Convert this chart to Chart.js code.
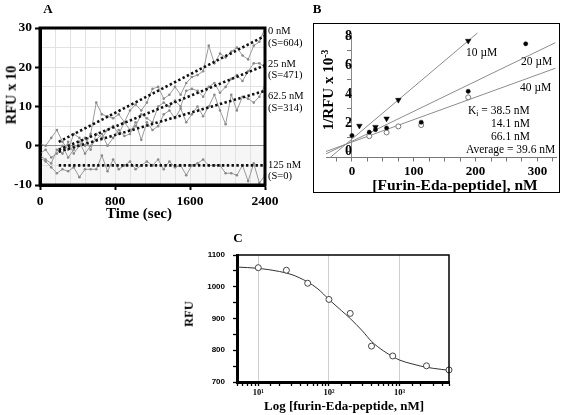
<!DOCTYPE html>
<html><head><meta charset="utf-8">
<script src="https://cdn.jsdelivr.net/npm/chart.js@4.4.1/dist/chart.umd.min.js"></script>
<style>
html,body{margin:0;padding:0;background:#fff;}
#wrap{position:relative;width:563px;height:415px;overflow:hidden;background:#fff;}
canvas{position:absolute;left:0;top:0;}
.t{position:absolute;font-family:"Liberation Serif","Times New Roman",serif;color:#000;white-space:nowrap;line-height:1;}
.b{font-weight:bold;}
sup{font-size:0.65em;vertical-align:0.5em;line-height:0;}
sub{font-size:0.65em;vertical-align:-0.25em;line-height:0;}
</style></head><body>
<div id="wrap">
<canvas id="cA" width="563" height="415"></canvas>
<canvas id="cB" width="563" height="415"></canvas>
<canvas id="cC" width="563" height="415"></canvas>
<div style="position:absolute;left:313px;top:23px;width:247px;height:170px;box-sizing:border-box;border:1.5px solid #000;"></div>
</div>
<script>
// ---------- Panel A data ----------
const timesA = [0,60,120,180,240,300,360,420,480,540,600,660,720,780,840,900,960,1020,1080,1140,1200,1260,1320,1380,1440,1500,1560,1620,1680,1740,1800,1860,1920,1980,2040,2100,2160,2220,2280,2340,2400];
const rfu0nM   = [0.5,0,2,4,1,-1,3,2,0,3,11,8,7.5,7,8,6,9,10.5,9,11,14.5,15,12,13,15,13,16,17.5,18,19,25.5,21,23.5,22.5,24,25,23,22,25.5,26.5,30];
const rfu25nM  = [-2.5,-3.5,-4.5,-1,-2,1,-2,0,2,-1,3,2,4,5,3,6,4,5,8,7,6,10,11,10,11.5,10,14,14.5,14,12.5,15,16,13.5,15,17,18,16.5,19,21,21,20];
const rfu62nM  = [-2,-1,-3,-2,0,-3,-1,1,-2,0,1.5,3,0,2,4,2.5,3,6,1.5,6,4,5,8,9,7,9.5,6,8,10,7.5,10,13,9,5.5,13,9,12.5,12,11,12.5,15.5];
const rfu125nM = [-3,-4,-5.5,-7,-6,-6.5,-5.5,-8,-6,-6,-6,-2.5,-6.5,-3.5,-6,-5,-4,-6,-5,-4,-5,-3.5,-6,-4,-5.5,-5,-7.5,-5,-4.5,-3.5,-5,-5,-5,-7,-7,-7.5,-5,-9,-4.5,-9.5,-7.5];
const fitT = [200, 2400];
const fit0nM = [1, 28];
const fit25nM = [-1, 20.5];
const fit62nM = [-1.5, 14];
const fit125nM = [-5, -5];
const ticksAx = [0, 800, 1600, 2400];
const ticksAy = [-10, 0, 10, 20, 30];

// ---------- Panel B data ----------
const b10X = [12, 38, 56, 75, 188];
const b10Y = [1.8, 1.72, 2.3, 3.6, 7.7];
const b20X = [0, 28, 38, 56, 112, 188, 281];
const b20Y = [1.13, 1.36, 1.53, 1.65, 2.05, 4.2, 7.5];
const b40X = [28, 56, 75, 112, 188];
const b40Y = [1.08, 1.34, 1.76, 1.85, 3.78];
const line10X = [-35, 203];  const line10Y = [-0.39, 8.25];
const line20X = [-42, 329];  const line20Y = [-0.15, 7.58];
const line40X = [-42, 329];  const line40Y = [0.02, 5.8];
const ticksBx = [0, 100, 200, 300];
const ticksBy = [0, 2, 4, 6, 8];

// ---------- Panel C data ----------
const cX = [10, 25, 50, 100, 200, 400, 800, 2400, 5000];
const cY = [1060, 1052, 1011, 960, 916, 813, 782, 751, 738];
const curveX = [5, 10, 20, 30, 50, 70, 100, 150, 200, 300, 400, 600, 800, 1000, 1500, 2000, 3000, 5000];
const curveY = [1062, 1058, 1048, 1038, 1015, 993, 960, 925, 900, 860, 828, 797, 780, 769, 757, 750, 743, 737];
const ticksCy = [700, 800, 900, 1000, 1100];

const SERIF = "'Liberation Serif','Times New Roman',serif";
const SANS = "'Liberation Sans',Arial,sans-serif";
const CLEAR = 'rgba(0,0,0,0)';
const pts = (xs, ys) => xs.map((x, i) => ({x: x, y: ys[i]}));
const range = (a, b, s) => { const r = []; for (let v = a; v <= b + 1e-9; v += s) r.push(v); return r; };

const framePlugin = {
  id: 'frame',
  afterDraw(chart, args, opts) {
    if (!opts || !opts.width) return;
    const {ctx, chartArea: a} = chart;
    ctx.save();
    ctx.strokeStyle = opts.color || '#000';
    ctx.lineWidth = opts.width;
    ctx.strokeRect(a.left, a.top, a.right - a.left, a.bottom - a.top);
    ctx.restore();
  }
};
const shadePlugin = {
  id: 'shade',
  beforeDraw(chart, args, opts) {
    if (!opts || !opts.color) return;
    const {ctx, chartArea: a, scales} = chart;
    const y0 = scales.y.getPixelForValue(0);
    ctx.save();
    ctx.fillStyle = opts.color;
    ctx.fillRect(a.left, y0, a.right - a.left, a.bottom - y0);
    ctx.restore();
  }
};
Chart.register(framePlugin, shadePlugin);

const common = { responsive: false, animation: false, devicePixelRatio: 1, events: [] };

// ---------- Chart A ----------
const noisy = (data) => ({data, showLine: true, borderColor: '#9a9a9a', borderWidth: 1, pointRadius: 1.3,
  pointBackgroundColor: '#8a8a8a', pointBorderWidth: 0, tension: 0});
const fit = (data) => ({data, showLine: true, borderColor: '#111', borderWidth: 2.6, borderDash: [2.4, 2.4],
  pointRadius: 0, tension: 0});
new Chart(document.getElementById('cA'), {
  type: 'scatter',
  data: { datasets: [
    fit(pts(fitT, fit0nM)), fit(pts(fitT, fit25nM)), fit(pts(fitT, fit62nM)), fit(pts(fitT, fit125nM)),
    noisy(pts(timesA, rfu0nM)), noisy(pts(timesA, rfu25nM)), noisy(pts(timesA, rfu62nM)), noisy(pts(timesA, rfu125nM))
  ]},
  options: Object.assign({}, common, {
    layout: {autoPadding: false, padding: {left: 0, top: 28, right: 298, bottom: 200}},
    plugins: {legend: {display: false}, tooltip: {enabled: false}, frame: {width: 3, color: '#000'}, shade: {color: '#f6f6f6'}},
    scales: {
      x: {type: 'linear', min: 0, max: 2400,
        afterFit: s => { s.height = 30; },
        afterBuildTicks: s => { s.ticks = range(0, 2400, 160).map(v => ({value: v})); },
        ticks: {autoSkip: false, maxRotation: 0, padding: 3,
          color: '#000', font: {family: SERIF, size: 13.5, weight: 'bold'},
          callback: v => ticksAx.includes(v) ? String(v) : ''},
        grid: {color: '#e2e2e2', lineWidth: 1, tickLength: 5,
          tickColor: c => ticksAx.includes(c.tick.value) ? '#000' : CLEAR, tickWidth: 2},
        border: {color: '#000', width: 3}},
      y: {type: 'linear', min: -10, max: 30,
        afterFit: s => { s.width = 40; },
        afterBuildTicks: s => { s.ticks = range(-10, 30, 5).map(v => ({value: v})); },
        ticks: {autoSkip: false, padding: 3,
          color: '#000', font: {family: SERIF, size: 13.5, weight: 'bold'},
          callback: v => ticksAy.includes(v) ? String(v) : ''},
        grid: {color: c => c.tick.value === 0 ? '#8c8c8c' : '#e2e2e2', lineWidth: 1, tickLength: 5,
          tickColor: c => ticksAy.includes(c.tick.value) ? '#000' : CLEAR, tickWidth: 2},
        border: {color: '#000', width: 3}}
    }
  })
});

// ---------- Chart B ----------
const gline = (data) => ({data, showLine: true, borderColor: '#8c8c8c', borderWidth: 1, pointRadius: 0, tension: 0});
new Chart(document.getElementById('cB'), {
  type: 'scatter',
  data: { datasets: [
    {data: pts(b10X, b10Y), pointStyle: 'triangle', rotation: 180, pointRadius: 3.2, backgroundColor: '#000', borderColor: '#000', borderWidth: 0.5},
    {data: pts(b20X, b20Y), pointStyle: 'circle', pointRadius: 2.1, backgroundColor: '#000', borderColor: '#000', borderWidth: 0.5},
    {data: pts(b40X, b40Y), pointStyle: 'circle', pointRadius: 2.5, backgroundColor: '#fff', borderColor: '#777', borderWidth: 1},
    gline(pts(line10X, line10Y)), gline(pts(line20X, line20Y)), gline(pts(line40X, line40Y))
  ]},
  options: Object.assign({}, common, {
    layout: {autoPadding: false, padding: {left: 326, top: 33, right: 7, bottom: 227.5}},
    plugins: {legend: {display: false}, tooltip: {enabled: false}},
    clip: false,
    scales: {
      x: {type: 'linear', min: -42, max: 330,
        afterFit: s => { s.height = 30; },
        afterBuildTicks: s => { s.ticks = range(-25, 325, 25).map(v => ({value: v})); },
        ticks: {autoSkip: false, maxRotation: 0, padding: 2,
          color: '#000', font: {family: SERIF, size: 13, weight: 'bold'},
          callback: v => ticksBx.includes(v) ? String(v) : ''},
        grid: {drawOnChartArea: false, tickLength: 4, tickColor: '#777'},
        border: {color: '#777', width: 1}},
      y: {type: 'linear', position: {x: 0}, min: -0.4, max: 8.25,
        afterBuildTicks: s => { s.ticks = range(0, 8, 1).map(v => ({value: v})); },
        ticks: {autoSkip: false, padding: 3,
          color: '#000', font: {family: SERIF, size: 14, weight: 'bold'},
          callback: v => ticksBy.includes(v) ? String(v) : ''},
        grid: {drawOnChartArea: false, tickLength: 4, tickColor: '#777'},
        border: {color: '#888', width: 1}}
    }
  })
});

// ---------- Chart C ----------
const supDigits = ['\u2070', '\u00B9', '\u00B2', '\u00B3', '\u2074'];
const isPow10 = v => { const l = Math.log10(v); return Math.abs(l - Math.round(l)) < 1e-9; };
new Chart(document.getElementById('cC'), {
  type: 'scatter',
  data: { datasets: [
    {data: pts(cX, cY), pointStyle: 'circle', pointRadius: 3, backgroundColor: '#fff', borderColor: '#444', borderWidth: 1, clip: false},
    {data: pts(curveX, curveY), showLine: true, borderColor: '#333', borderWidth: 1, pointRadius: 0,
      tension: 0.4, cubicInterpolationMode: 'monotone'}
  ]},
  options: Object.assign({}, common, {
    layout: {autoPadding: false, padding: {left: 197, top: 255, right: 114, bottom: 13}},
    plugins: {legend: {display: false}, tooltip: {enabled: false}, frame: {width: 1.5, color: '#000'}},
    scales: {
      x: {type: 'logarithmic', min: 5, max: 5000,
        afterFit: s => { s.height = 20; },
        ticks: {autoSkip: false, maxRotation: 0, padding: 2, color: '#000',
          font: {family: SERIF, size: 8.5, weight: 'bold'},
          callback: v => isPow10(v) ? '10' + supDigits[Math.round(Math.log10(v))] : ''},
        grid: {color: c => isPow10(c.tick.value) ? '#cfcfcf' : CLEAR, lineWidth: 1, tickLength: 4, tickColor: '#000', tickWidth: 1.3},
        border: {color: '#000', width: 3}},
      y: {type: 'linear', min: 700, max: 1100,
        afterFit: s => { s.width = 40; },
        afterBuildTicks: s => { s.ticks = range(700, 1100, 50).map(v => ({value: v})); },
        ticks: {autoSkip: false, padding: 8, color: '#000',
          font: {family: SANS, size: 8, weight: 'bold'},
          callback: v => ticksCy.includes(v) ? String(v) : ''},
        grid: {drawOnChartArea: false, tickLength: 4, tickColor: '#000', tickWidth: 1.3},
        border: {color: '#000', width: 3}}
    }
  })
});

// ---------- Text ----------
const wrap = document.getElementById('wrap');
function addText(html, x, y, size, opts) {
  opts = opts || {};
  const d = document.createElement('div');
  d.className = 't' + (opts.bold ? ' b' : '');
  d.style.fontSize = size + 'px';
  d.style.left = x + 'px';
  d.style.top = y + 'px';
  let tf = opts.center ? 'translate(-50%,-50%)' : 'translate(0,-50%)';
  if (opts.rot) tf += ' rotate(-90deg)';
  d.style.transform = tf;
  d.innerHTML = html;
  wrap.appendChild(d);
}
addText('A', 48, 8, 13, {bold: true, center: true});
addText('B', 317, 8, 13, {bold: true, center: true});
addText('C', 238, 237, 13, {bold: true, center: true});
addText('RFU x 10', 11, 95, 14.5, {bold: true, center: true, rot: true});
addText('Time (sec)', 139, 213, 15, {bold: true, center: true});
addText('0 nM', 268, 31, 10.5);
addText('(S=604)', 268, 43, 10.5);
addText('25 nM', 268, 64, 10.5);
addText('(S=471)', 268, 75, 10.5);
addText('62.5 nM', 268, 96, 10.5);
addText('(S=314)', 268, 108, 10.5);
addText('125 nM', 268, 165, 10.5);
addText('(S=0)', 268, 176, 10.5);
addText('1/RFU x 10<sup>-3</sup>', 328, 90, 15, {bold: true, center: true, rot: true});
addText('[Furin-Eda-peptide], nM', 455, 185, 15.5, {bold: true, center: true});
addText('10 \u00B5M', 466, 53, 11.5);
addText('20 \u00B5M', 521, 62, 11.5);
addText('40 \u00B5M', 520, 88, 11.5);
addText('K<sub>i</sub> = 38.5 nM', 468, 111, 11.5);
addText('14.1 nM', 491, 124, 11.5);
addText('66.1 nM', 491, 137, 11.5);
addText('Average = 39.6 nM', 466, 150, 11.5);
addText('RFU', 189, 314, 12.5, {bold: true, center: true, rot: true});
addText('Log [furin-Eda-peptide, nM]', 344, 405, 13, {bold: true, center: true});
</script>
</body></html>
